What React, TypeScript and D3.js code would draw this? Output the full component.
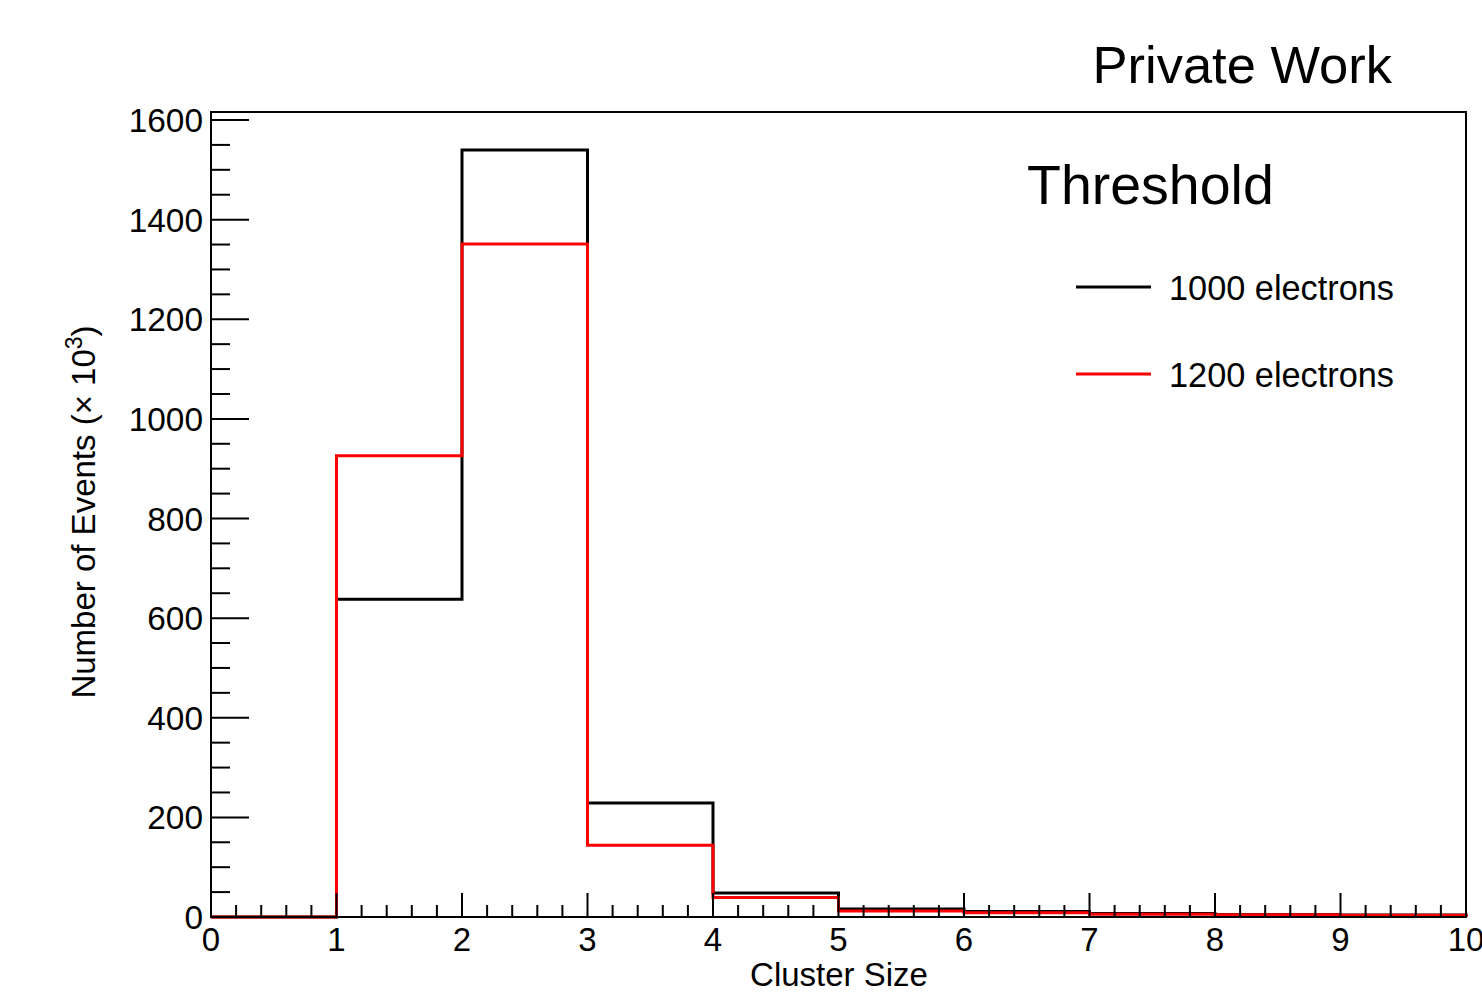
import React from "react";
import * as d3 from "d3";

const binEdges = [0, 1, 2, 3, 4, 5, 6, 7, 8, 9, 10];
const series1000 = [0, 638, 1540, 229, 48, 16, 11, 7, 5, 4];
const series1200 = [0, 926, 1351, 144, 39, 12, 8.5, 5.5, 4.5, 3.5];
const xTickLabels = ["0", "1", "2", "3", "4", "5", "6", "7", "8", "9", "10"];
const yTickValues = [0, 200, 400, 600, 800, 1000, 1200, 1400, 1600];
const legendItems = [
  { label: "1000 electrons", color: "#000000" },
  { label: "1200 electrons", color: "#ff0000" },
];

const W = 1482;
const H = 1004;
const left = 211;
const right = 1466;
const top = 112;
const bottom = 917;
const FONT = "'Liberation Sans', Arial, Helvetica, sans-serif";

export default function App() {
  const x = d3.scaleLinear().domain([0, 10]).range([left, right]);
  const y = d3.scaleLinear().domain([0, 1600]).range([bottom, 120]);

  const stepPath = (vals: number[]) => {
    const pts: [number, number][] = [[x(binEdges[0]), y(0)]];
    vals.forEach((v, i) => {
      pts.push([x(binEdges[i]), y(v)]);
      pts.push([x(binEdges[i + 1]), y(v)]);
    });
    pts.push([x(binEdges[binEdges.length - 1]), y(0)]);
    return d3.line()(pts) as string;
  };

  const xMinor = d3.range(0, 10.001, 0.2).filter((v) => Math.abs(v - Math.round(v)) > 1e-6);
  const yMinor = d3.range(0, 1600.001, 50).filter((v) => v % 200 !== 0);

  return (
    <svg
      width={W}
      height={H}
      style={{ position: "absolute", left: 0, top: 0, background: "#fff" }}
      fontFamily={FONT}
    >
      <rect x={0} y={0} width={W} height={H} fill="#fff" />
      {/* histograms */}
      <path d={stepPath(series1000)} fill="none" stroke="#000" strokeWidth={3} />
      <path d={stepPath(series1200)} fill="none" stroke="#ff0000" strokeWidth={3} />

      {/* frame */}
      <rect x={left} y={top} width={right - left} height={bottom - top} fill="none" stroke="#000" strokeWidth={2} />

      {/* x ticks */}
      {xTickLabels.map((t, i) => (
        <g key={"xt" + i}>
          <line x1={x(i)} x2={x(i)} y1={bottom} y2={bottom - 24} stroke="#000" strokeWidth={2} />
          <text x={x(i)} y={951} fontSize={33} textAnchor="middle">{t}</text>
        </g>
      ))}
      {xMinor.map((v, i) => (
        <line key={"xm" + i} x1={x(v)} x2={x(v)} y1={bottom} y2={bottom - 12} stroke="#000" strokeWidth={2} />
      ))}

      {/* y ticks */}
      {yTickValues.map((v) => (
        <g key={"yt" + v}>
          <line x1={left} x2={left + 38} y1={y(v)} y2={y(v)} stroke="#000" strokeWidth={2} />
          <text x={203} y={y(v) + 12} fontSize={33.4} textAnchor="end">{v}</text>
        </g>
      ))}
      {yMinor.map((v) => (
        <line key={"ym" + v} x1={left} x2={left + 19} y1={y(v)} y2={y(v)} stroke="#000" strokeWidth={2} />
      ))}

      {/* axis titles */}
      <text x={839} y={986} fontSize={33} textAnchor="middle">Cluster Size</text>
      <text transform="translate(95,512) rotate(-90)" fontSize={33} textAnchor="middle">
        Number of Events (× 10<tspan dy={-13} fontSize={23}>3</tspan><tspan dy={13}>)</tspan>
      </text>

      {/* labels */}
      <text x={1392} y={83} fontSize={52.5} textAnchor="end">Private Work</text>
      <text x={1027} y={204} fontSize={55.5}>Threshold</text>

      {/* legend */}
      {legendItems.map((item, i) => (
        <g key={item.label}>
          <line x1={1076} x2={1151} y1={287 + i * 87} y2={287 + i * 87} stroke={item.color} strokeWidth={3} />
          <text x={1169} y={300 + i * 87} fontSize={34.3}>{item.label}</text>
        </g>
      ))}
    </svg>
  );
}
